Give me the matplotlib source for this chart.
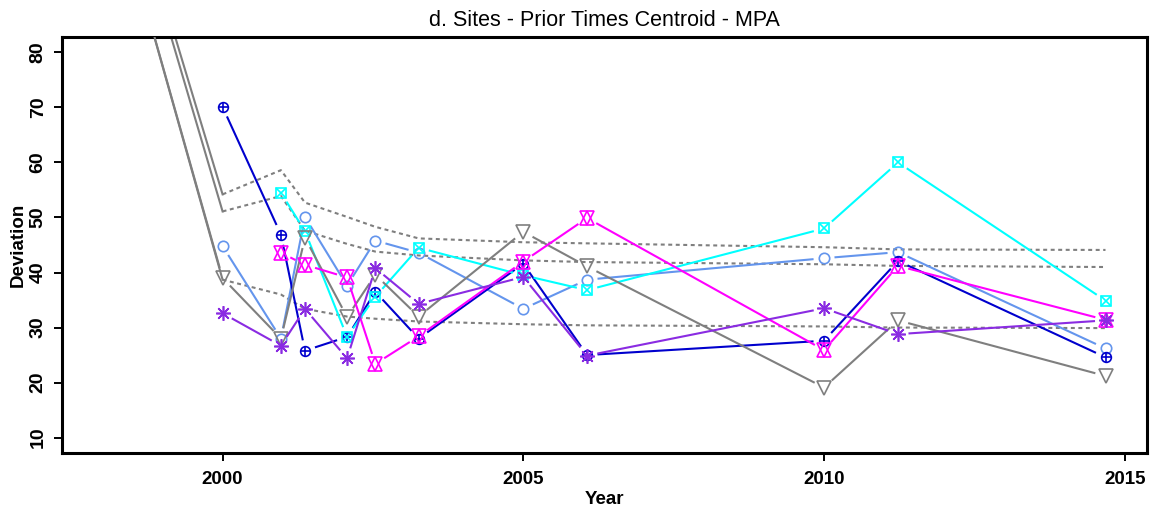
import numpy as np
import matplotlib
matplotlib.use("Agg")
import matplotlib.pyplot as plt
from matplotlib.collections import LineCollection

plt.rcParams["font.family"] = ["Liberation Sans", "DejaVu Sans"]

# survey years shared by the sites (first entry is the 1998 baseline, off-scale)
years = [1998.0, 2000.0, 2000.97, 2001.37, 2002.07, 2002.54, 2003.26,
         2005.0, 2006.06, 2010.0, 2011.23, 2014.68]

# deviation per site, None where the site was not surveyed
site_gray = [116.4, 39.0, 28.0, 46.3, 31.9, 39.6, 32.0, 47.4, 41.1, 19.1, 31.3, 21.2]
site_cyan = [None, None, 54.5, 47.5, 28.3, 35.6, 44.5, 39.5, 36.8, 48.0, 60.0, 34.9]
site_lightblue = [None, 44.8, 28.0, 50.1, 37.6, 45.8, 43.6, 33.4, 38.7, 42.6, 43.7, 26.2]
site_darkblue = [None, 70.1, 46.9, 25.8, 28.3, 36.5, 28.0, 41.6, 25.0, 27.6, 42.1, 24.6]
site_magenta = [None, None, 43.6, 41.4, 39.1, 23.4, 28.4, 42.0, 49.9, 25.9, 41.2, 31.4]
site_purple = [None, 32.6, 26.7, 33.4, 24.4, 40.8, 34.3, 39.2, 24.9, 33.5, 28.8, 31.3]

# running reference bands (upper, middle, lower)
band_upper = [126.8, 54.2, 58.6, 52.7, 50.1, 48.3, 46.2, 45.5, 45.3, 44.6, 44.2, 44.1]
band_mid = [125.2, 51.1, 53.9, 47.6, 45.2, 43.8, 43.1, 42.2, 41.9, 41.5, 41.2, 41.0]
band_lower = [116.4, 38.7, 36.0, 33.4, 32.0, 31.6, 31.1, 30.6, 30.4, 30.2, 30.0, 29.9]

fig = plt.figure(figsize=(11.55, 5.13), dpi=100)
ax = fig.add_axes([62 / 1155, 1 - 453 / 513, 1085 / 1155, 416 / 513])
ax.set_xlim(1997.33, 2015.37)
ax.set_ylim(7.2, 82.8)

GAP = 10.5  # pixels left blank around each point, like type="b"


def gapped_line(xs, ys, color, z):
    pairs = [(x, y) for x, y in zip(xs, ys) if y is not None]
    pts = ax.transData.transform(np.array(pairs, dtype=float))
    segs = []
    for p, q in zip(pts[:-1], pts[1:]):
        d = q - p
        L = np.hypot(*d)
        if L <= 2 * GAP:
            continue
        u = d / L
        segs.append(np.array([p + u * GAP, q - u * GAP]))
    inv = ax.transData.inverted()
    segs = [inv.transform(s) for s in segs]
    ax.add_collection(LineCollection(segs, colors=color, linewidths=1.5, zorder=z))


def points(xs, ys, color, markers, z):
    pairs = [(x, y) for x, y in zip(xs, ys) if y is not None]
    px = [p[0] for p in pairs]
    py = [p[1] for p in pairs]
    for m, ms in markers:
        ax.plot(px, py, linestyle="none", marker=m, ms=ms, mfc="none",
                mec=color, mew=1.2, zorder=z + 0.5, clip_on=True)


# reference bands: solid from the baseline, dotted afterwards
for band in (band_upper, band_mid, band_lower):
    ax.plot(years[:2], band[:2], color="#7f7f7f", lw=1.5, zorder=1)
    ax.plot(years[1:], band[1:], color="#7f7f7f", lw=1.5,
            linestyle=(0, (1.9, 1.7)), zorder=1)

series = [
    (site_lightblue, "#6495ED", [("o", 7.5)]),
    (site_darkblue, "#0000CD", [("o", 7), ("+", 7)]),
    (site_cyan, "#00FFFF", [("s", 7), ("x", 7)]),
    (site_gray, "#7f7f7f", [("v", 10.5)]),
    (site_magenta, "#FF00FF", [("^", 10), ("v", 10)]),
    (site_purple, "#8A2BE2", [((8, 2, 0), 10.5)]),
]
for i, (vals, col, mk) in enumerate(series):
    z = 2 + i
    gapped_line(years, vals, col, z)
    points(years, vals, col, mk, z)

ax.set_xticks([2000, 2005, 2010, 2015])
ax.set_yticks(range(10, 81, 10))
for lab in ax.get_xticklabels() + ax.get_yticklabels():
    lab.set_fontweight("bold")
    lab.set_fontsize(13.5)
for lab in ax.get_yticklabels():
    lab.set_rotation(90)
    lab.set_va("center")
    lab.set_fontsize(14)
ax.tick_params(axis="both", direction="out", length=6, width=1.4, color="black")
ax.tick_params(axis="x", pad=7)
ax.tick_params(axis="y", pad=5)
for sp in ax.spines.values():
    sp.set_linewidth(2.2)
    sp.set_color("black")

ax.set_title("d. Sites - Prior Times Centroid - MPA", fontsize=15.5, pad=8)
ax.set_xlabel("Year", fontsize=13.5, fontweight="bold", labelpad=2)
ax.set_ylabel("Deviation", fontsize=13.5, fontweight="bold", labelpad=2)

fig.savefig("out.png", dpi=100)
